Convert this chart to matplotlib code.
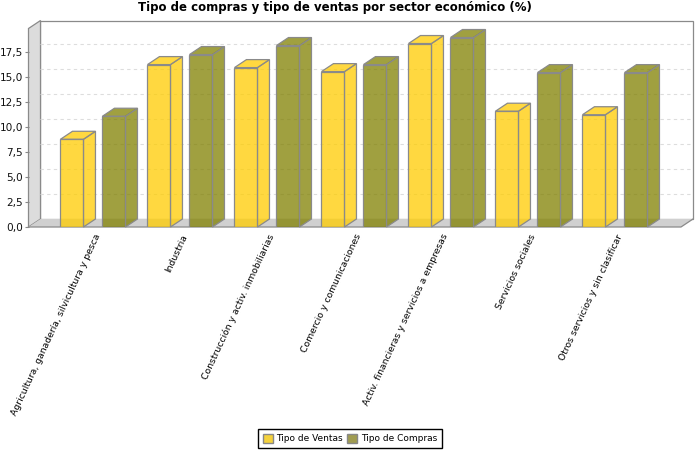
import matplotlib
matplotlib.use('Agg')
import matplotlib.pyplot as plt
from matplotlib.patches import Polygon, Patch
from matplotlib.transforms import ScaledTranslation

sectores = ['Agricultura, ganadería, silvicultura y pesca', 'Industria',
            'Construcción y activ. inmobiliarias', 'Comercio y comunicaciones',
            'Activ. financieras y servicios a empresas', 'Servicios sociales',
            'Otros servicios y sin clasificar']
ventas = [8.75, 16.2, 15.9, 15.5, 18.3, 11.55, 11.2]
compras = [11.05, 17.2, 18.1, 16.2, 18.9, 15.4, 15.4]
yticks = [0, 2.5, 5, 7.5, 10, 12.5, 15, 17.5]
ylabels = ['0,0', '2,5', '5,0', '7,5', '10,0', '12,5', '15,0', '17,5']

amarillo = (1.0, 0.8, 0.0, 0.75)
oliva = (0.5, 0.5, 0.0, 0.75)
borde = '#8a8a8a'

fig = plt.figure(figsize=(7, 4.5), dpi=100)
# axes limits in pixels of the 700x450 image: x 28.5-681, y 227-28.5
ax = fig.add_axes([28.5 / 700, 1 - 227 / 450, 652.5 / 700, 198.5 / 450])
ax.set_xlim(-0.741, 6.759)
ax.set_ylim(0, 19.8)

dx = 12 / 87
dy = 8 / 10.03
ancho = 23 / 87
sep = 21 / 87
x0, x1 = ax.get_xlim()
ytop = ax.get_ylim()[1]


def poly(puntos, color, edge=borde, lw=0.9, z=1):
    ax.add_patch(Polygon(puntos, closed=True, facecolor=color, edgecolor=edge,
                         linewidth=lw, zorder=z, clip_on=False, joinstyle='miter'))


# walls and floor
poly([(x0 + dx, dy), (x1 + dx, dy), (x1 + dx, ytop + dy), (x0 + dx, ytop + dy)], 'white', z=1)
poly([(x0, 0), (x0 + dx, dy), (x0 + dx, ytop + dy), (x0, ytop)], '#dcdcdc', z=1)
poly([(x0, 0), (x1, 0), (x1 + dx, dy), (x0 + dx, dy)], '#d0d0d0', edge='none', z=1)
ax.plot([x0, x1, x1 + dx], [0, 0, dy], color=borde, lw=0.9, zorder=2, clip_on=False)

for v in yticks[1:]:
    ax.plot([x0 + dx, x1 + dx], [v + dy, v + dy], color='#dddddd', lw=0.8,
            ls=(0, (3, 3)), zorder=2, clip_on=False)


def barras(xs, valores, color):
    ax.bar(xs, valores, width=ancho, facecolor=color, edgecolor=borde, linewidth=0.9, zorder=4)
    for x, v in zip(xs, valores):
        izq = x - ancho / 2
        der = x + ancho / 2
        poly([(der, 0), (der + dx, dy), (der + dx, v + dy), (der, v)], color, z=3)
        poly([(izq, v), (der, v), (der + dx, v + dy), (izq + dx, v + dy)], color, z=3)


pos = list(range(len(sectores)))
barras([p - sep for p in pos], ventas, amarillo)
barras([p + sep for p in pos], compras, oliva)

for s in ax.spines.values():
    s.set_visible(False)
ax.set_yticks(yticks)
ax.set_yticklabels(ylabels, fontsize=7.6, color='#111111')
ax.tick_params(axis='y', length=3, width=0.8, color='#888888', pad=1)
ax.set_xticks(pos)
ax.set_xticklabels(sectores, fontsize=6.7, rotation=65, ha='right', rotation_mode='anchor')
ax.tick_params(axis='x', length=0, pad=4)
desplaza = ScaledTranslation(1 / 100, 0, fig.dpi_scale_trans)
for t in ax.get_xticklabels():
    t.set_transform(t.get_transform() + desplaza)

fig.text(335 / 700, 1 - 7.5 / 450, 'Tipo de compras y tipo de ventas por sector económico (%)',
         ha='center', va='center', fontsize=8.5, fontweight='bold')

handles = [Patch(facecolor='#f5d23c', edgecolor='#888888', label='Tipo de Ventas'),
           Patch(facecolor='#a09c50', edgecolor='#888888', label='Tipo de Compras')]
leg = fig.legend(handles=handles, loc='center', bbox_to_anchor=(350 / 700, 1 - 438.5 / 450),
                 ncol=2, fontsize=6.5, frameon=True, fancybox=False, edgecolor='black',
                 framealpha=1, handlelength=1.1, handleheight=1.2, handletextpad=0.4,
                 columnspacing=0.5, borderpad=0.5, borderaxespad=0)
leg.get_frame().set_linewidth(1.0)
# keep the box edge crisp against the reference's square frame
leg.get_frame().set_boxstyle('square', pad=0)

fig.savefig('out.png', dpi=100)
